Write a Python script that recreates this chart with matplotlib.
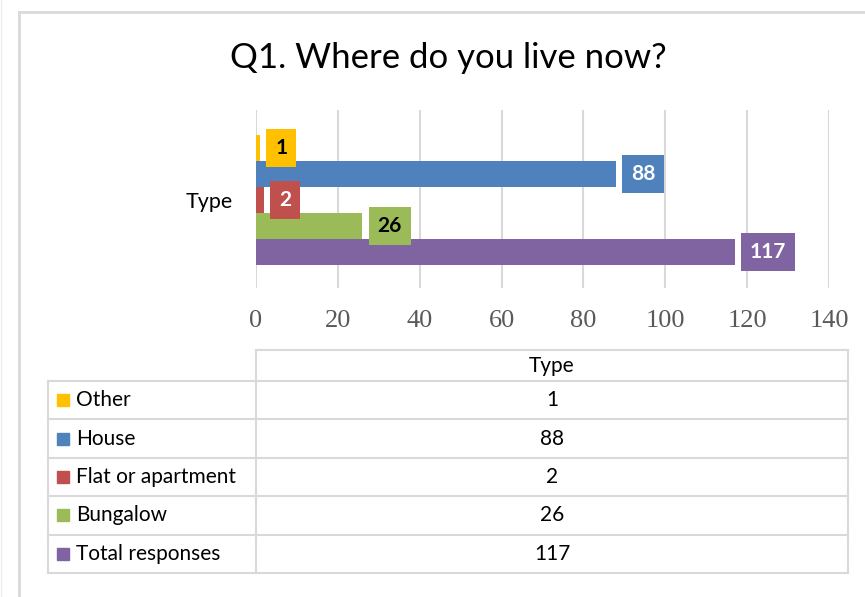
import matplotlib
matplotlib.use("Agg")
import matplotlib.pyplot as plt
from matplotlib import font_manager

# data
categories = ["Other", "House", "Flat or apartment", "Bungalow", "Total responses"]
values = [1, 88, 2, 26, 117]
colors = ["#FFC000", "#4F81BD", "#C0504D", "#9BBB59", "#8064A2"]
label_colors = ["black", "white", "white", "black", "white"]
series_name = "Type"
title = "Q1. Where do you live now?"
xticks = [0, 20, 40, 60, 80, 100, 120, 140]

names = {f.name for f in font_manager.fontManager.ttflist}
sans = [f for f in ["Liberation Sans Narrow", "Lato", "DejaVu Sans"] if f in names]
plt.rcParams['font.family'] = sans

W, H = 865, 597
fig = plt.figure(figsize=(W / 100, H / 100), dpi=100)

# pixel-coordinate overlay for frame, title and table
bg = fig.add_axes([0, 0, 1, 1])
bg.set_xlim(0, W)
bg.set_ylim(H, 0)
bg.axis("off")
grey = "#d9d9d9"
bg.plot([19, W], [12, 12], color=grey, lw=2)
bg.plot([19, 19], [12, H], color=grey, lw=2)
bg.plot([1, 1], [0, H], color="#eeeeee", lw=1)
bg.text(448, 58, title, ha="center", va="center", fontsize=25, color="black")

# chart
ax = fig.add_axes([256 / W, 1 - 288 / H, (829 - 256) / W, (288 - 110) / H])
ypos = list(range(len(values)))
ax.barh(ypos, values, height=1.0, color=colors, zorder=2)
ax.set_xlim(0, 140)
ax.set_ylim(5.38, -1.46)
ax.set_xticks(xticks)
ax.set_xticklabels([str(t) for t in xticks], family=["Liberation Serif", "DejaVu Serif"],
                   fontsize=19, color="#595959")
ax.tick_params(axis="x", length=0, pad=16)
ax.set_yticks([2])
ax.set_yticklabels([series_name], fontsize=15.5)
ax.tick_params(axis="y", length=0, pad=17)
ax.grid(axis="x", color=grey, lw=1.5, zorder=0)
for s in ax.spines.values():
    s.set_visible(False)

for y, v, c, tc in zip(ypos, values, colors, label_colors):
    ax.annotate(str(v), xy=(v, y), xytext=(15, 0), textcoords="offset pixels",
                ha="left", va="center", fontsize=15, fontweight="bold", color=tc,
                bbox=dict(boxstyle="square,pad=0.42", fc=c, ec="none"), zorder=3)

# data table
left, mid, right = 48, 256, 848
top, head_bot, bot = 350, 381, 573
row_h = (bot - head_bot) / len(categories)
bg.plot([mid, right], [top, top], color=grey, lw=1.5)
bg.plot([mid, mid], [top, bot], color=grey, lw=1.5)
bg.plot([right, right], [top, bot], color=grey, lw=1.5)
bg.plot([left, left], [head_bot, bot], color=grey, lw=1.5)
bg.text((mid + right) / 2, (top + head_bot) / 2, series_name, ha="center", va="center", fontsize=15)
for i, (cat, v, c) in enumerate(zip(categories, values, colors)):
    y0 = head_bot + i * row_h
    bg.plot([left, right], [y0, y0], color=grey, lw=1.5)
    yc = y0 + row_h / 2
    bg.add_patch(plt.Rectangle((57, yc - 6), 12, 12, color=c))
    bg.text(76, yc, cat, ha="left", va="center", fontsize=15)
    bg.text((mid + right) / 2, yc, str(v), ha="center", va="center", fontsize=15)
bg.plot([left, right], [bot, bot], color=grey, lw=1.5)

fig.savefig("out.png", dpi=100)
